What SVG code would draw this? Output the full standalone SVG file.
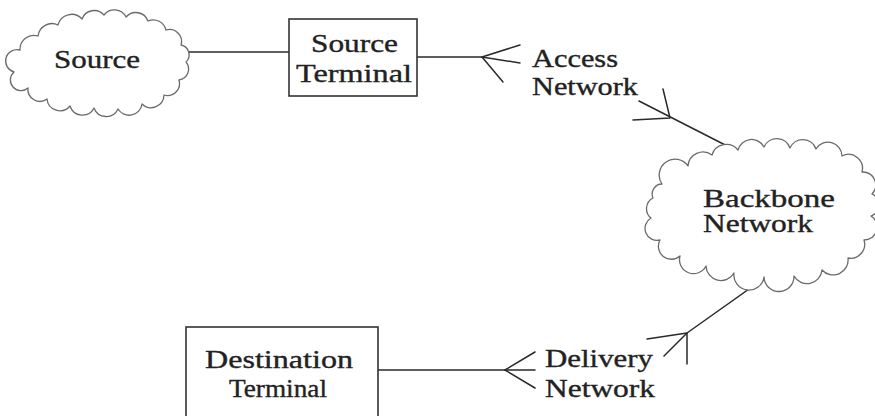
<svg xmlns="http://www.w3.org/2000/svg" width="875" height="416" viewBox="0 0 875 416">
<style>
.bg{fill:#fff}
.cloud{fill:#fff;stroke:#6a6a6a;stroke-width:1.3;stroke-linejoin:round}
.box{fill:#fff;stroke:#333;stroke-width:1.6}
.ln{fill:none;stroke:#2a2a2a;stroke-width:1.5;stroke-linecap:round;stroke-linejoin:round}
.t{font-family:'Liberation Serif','Times New Roman',Times,serif;font-size:25px;fill:#222;stroke:#222;stroke-width:0.35}
</style>
<rect class="bg" x="0" y="0" width="875" height="416"/>
<g id="connectors">
<line class="ln" x1="187" y1="52" x2="290" y2="52"/>
<line class="ln" x1="417" y1="57" x2="482" y2="57"/>
<polyline class="ln" points="520,45 482,57 520,63"/>
<line class="ln" x1="482" y1="57" x2="503" y2="82"/>
<line class="ln" x1="639" y1="101" x2="735" y2="150"/>
<polyline class="ln" points="633,120 670,118 663,89"/>
<polyline class="ln" points="773,272 687,333 664,356"/>
<polyline class="ln" points="647,339 687,333 687,364"/>
<line class="ln" x1="378" y1="370" x2="505" y2="370"/>
<polyline class="ln" points="535,352 505,370 535,388"/>
<line class="ln" x1="505" y1="370" x2="535" y2="370"/>
</g>
<g id="source">
<path class="cloud" d="M20,50 A14,14 0 0 1 38,36 A14,14 0 0 1 58,25 A14,14 0 0 1 82,19 A13,13 0 0 1 104,15 A13,13 0 0 1 126,17 A13,13 0 0 1 148,21 A13,13 0 0 1 166,30 A12,12 0 0 1 181,45 A10,10 0 0 1 186,62 A11,11 0 0 1 179,80 A12,12 0 0 1 164,95 A13,13 0 0 1 142,104 A13,13 0 0 1 118,109 A13,13 0 0 1 94,108 A13,13 0 0 1 70,106 A13,13 0 0 1 47,99 A12,12 0 0 1 28,88 A10,10 0 0 1 14,72 A10,10 0 0 1 20,50 Z"/>
<text class="t" x="54" y="68" textLength="86" lengthAdjust="spacingAndGlyphs">Source</text>
</g>
<g id="source-terminal">
<rect class="box" x="289" y="19" width="128" height="77"/>
<text class="t" x="311" y="52" textLength="87" lengthAdjust="spacingAndGlyphs">Source</text>
<text class="t" x="296" y="82" textLength="116" lengthAdjust="spacingAndGlyphs">Terminal</text>
</g>
<g id="access-network">
<text class="t" x="532" y="67" textLength="86" lengthAdjust="spacingAndGlyphs">Access</text>
<text class="t" x="532" y="95" textLength="106" lengthAdjust="spacingAndGlyphs">Network</text>
</g>
<g id="backbone">
<path class="cloud" d="M662,184 A15,15 0 0 1 688,166 A15,15 0 0 1 712,155 A15,15 0 0 1 738,150 A14,14 0 0 1 764,147 A14,14 0 0 1 790,148 A14,14 0 0 1 816,149 A14,14 0 0 1 842,156 A14,14 0 0 1 862,172 A13,13 0 0 1 872,194 A12,12 0 0 1 871,216 A13,13 0 0 1 864,240 A14,14 0 0 1 848,258 A15,15 0 0 1 822,270 A15,15 0 0 1 794,276 A15,15 0 0 1 764,277 A15,15 0 0 1 734,273 A15,15 0 0 1 706,266 A14,14 0 0 1 680,256 A13,13 0 0 1 660,240 A12,12 0 0 1 651,218 A12,12 0 0 1 653,198 A10,10 0 0 1 662,184 Z"/>
<text class="t" x="703" y="207" textLength="132" lengthAdjust="spacingAndGlyphs">Backbone</text>
<text class="t" x="703" y="232" textLength="110" lengthAdjust="spacingAndGlyphs">Network</text>
</g>
<g id="delivery-network">
<text class="t" x="545" y="367" textLength="108" lengthAdjust="spacingAndGlyphs">Delivery</text>
<text class="t" x="545" y="397" textLength="110" lengthAdjust="spacingAndGlyphs">Network</text>
</g>
<g id="destination-terminal">
<rect class="box" x="186" y="327" width="192" height="100"/>
<text class="t" x="205" y="368" textLength="148" lengthAdjust="spacingAndGlyphs">Destination</text>
<text class="t" x="229" y="397" textLength="98" lengthAdjust="spacingAndGlyphs">Terminal</text>
</g>
</svg>
